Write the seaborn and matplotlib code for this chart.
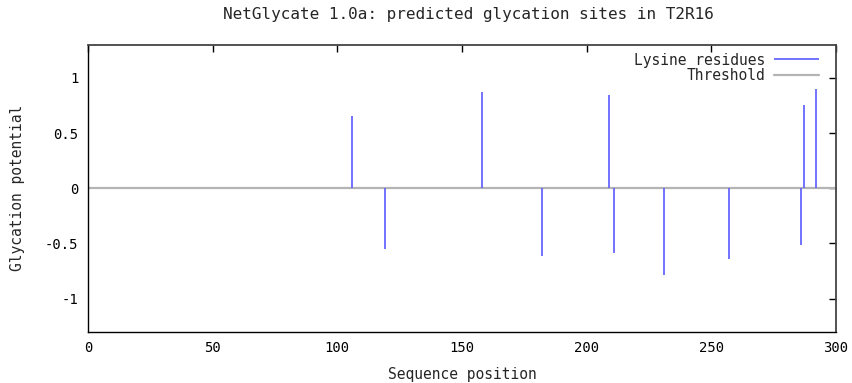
import matplotlib
matplotlib.use("Agg")
import matplotlib.pyplot as plt
import seaborn as sns
import pandas as pd

# Data
positions = [106, 119, 158, 182, 209, 211, 231, 257, 286, 287, 292]
potentials = [0.657, -0.555, 0.869, -0.615, 0.845, -0.59, -0.788, -0.64, -0.513, 0.757, 0.903]
threshold_x = [0, 300]
threshold_y = [0, 0]
xticks = [0, 50, 100, 150, 200, 250, 300]
yticks = [-1, -0.5, 0, 0.5, 1]
ytick_labels = ["-1", "-0.5", "0", "0.5", "1"]

title = "NetGlycate 1.0a: predicted glycation sites in T2R16"

sns.set_style("white")
plt.rcParams['font.family'] = ['DejaVu Sans Mono']

fig = plt.figure(figsize=(8.52, 3.83), dpi=100)
ax = fig.add_axes([88/852, 1 - 331.7/383, (836 - 88)/852, (331.7 - 44.7)/383])

df_thr = pd.DataFrame({"x": threshold_x, "y": threshold_y})
sns.lineplot(data=df_thr, x="x", y="y", ax=ax, color="#b4b4b4", linewidth=1.6,
             label="Threshold", zorder=1)
ax.vlines(positions, 0, potentials, colors="#5a5aff", linewidth=1.2, zorder=2,
          label="Lysine residues")

ax.set_xlim(0, 300)
ax.set_ylim(-1.3, 1.3)
ax.set_xticks(xticks)
ax.set_yticks(yticks)
ax.set_yticklabels(ytick_labels)
ax.tick_params(direction="in", length=5, width=1, top=True, right=True,
               labelsize=10, colors="black", pad=7)
for s in ax.spines.values():
    s.set_color("black")
    s.set_linewidth(1)
ax.spines["top"].set_color("#444444")
ax.spines["top"].set_linewidth(1.3)
ax.spines["right"].set_color("#444444")
ax.spines["right"].set_linewidth(1.3)

ax.set_xlabel("Sequence position", fontsize=10.5, labelpad=8)
ax.set_ylabel("Glycation potential", fontsize=10.5, labelpad=14)
fig.text(468/852, 1 - 15/383, title, ha="center", va="center", fontsize=11.5)

handles, labels = ax.get_legend_handles_labels()
order = [labels.index("Lysine residues"), labels.index("Threshold")]
leg = ax.legend([handles[i] for i in order], [labels[i] for i in order],
                loc="upper right", frameon=False, markerfirst=False,
                fontsize=10.5, handlelength=3.1, handletextpad=0.6,
                labelspacing=0.05, borderaxespad=0.0, bbox_to_anchor=(0.985, 0.993))

fig.savefig("out.png", dpi=100)
